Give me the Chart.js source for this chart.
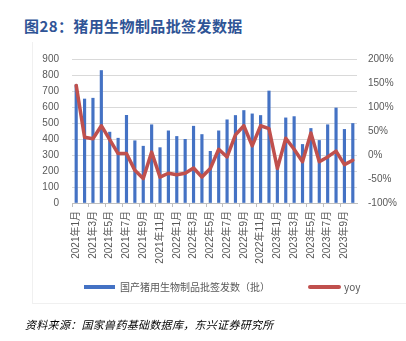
<!DOCTYPE html>
<html>
<head>
<meta charset="utf-8">
<script src="https://cdn.jsdelivr.net/npm/chart.js@4"></script>
<style>
  html, body { margin: 0; padding: 0; background: #fff; }
  body { width: 406px; height: 341px; position: relative; overflow: hidden; font-family: 'Liberation Sans', 'Noto Sans CJK SC', sans-serif; }
  #title { position: absolute; left: 24px; top: 15px; font-size: 15px; font-weight: bold; color: #2F5496; font-family: 'Noto Sans CJK SC', sans-serif; white-space: nowrap; letter-spacing: 0.4px; }
  #frame { position: absolute; left: 32px; top: 42px; width: 380px; height: 261px; border-left: 1px solid #f0f0f0; border-bottom: 1px solid #f0f0f0; }
  #chartBox { position: absolute; left: 0; top: 40px; width: 406px; height: 240px; }
  .leg { position: absolute; top: 279px; font-size: 10px; color: #595959; font-family: 'Noto Sans CJK SC', sans-serif; white-space: nowrap; line-height: 16px; }
  .sw { position: absolute; }
  #source { position: absolute; left: 25px; top: 316px; font-size: 11px; font-style: italic; letter-spacing: 0.3px; color: #000; font-family: 'Noto Sans CJK SC', sans-serif; white-space: nowrap; }
</style>
</head>
<body>
<div id="title">图28：猪用生物制品批签发数据</div>
<div id="frame"></div>
<div id="chartBox"><canvas id="c" width="406" height="240"></canvas></div>
<div class="sw" style="left:84px;top:285px;width:31px;height:4px;background:#4472C4"></div>
<div class="leg" style="left:120px">国产猪用生物制品批签发数（批）</div>
<div class="sw" style="left:308px;top:285px;width:33px;height:4px;border-radius:2px;background:#C0504D"></div>
<div class="leg" style="left:344px">yoy</div>
<div id="source">资料来源：国家兽药基础数据库，东兴证券研究所</div>
<script>
// months, 2021-01 .. 2023-10
const categories = [
  '2021年1月','2021年2月','2021年3月','2021年4月','2021年5月','2021年6月',
  '2021年7月','2021年8月','2021年9月','2021年10月','2021年11月','2021年12月',
  '2022年1月','2022年2月','2022年3月','2022年4月','2022年5月','2022年6月',
  '2022年7月','2022年8月','2022年9月','2022年10月','2022年11月','2022年12月',
  '2023年1月','2023年2月','2023年3月','2023年4月','2023年5月','2023年6月',
  '2023年7月','2023年8月','2023年9月','2023年10月'
];
// 批签发数（批）
const batchCounts = [738, 650, 655, 828, 443, 405, 548, 389, 355, 489, 346, 451,
  416, 398, 480, 428, 323, 451, 520, 547, 578, 557, 547, 700,
  215, 532, 540, 366, 466, 391, 489, 594, 460, 497];
// yoy, %
const yoyPct = [145, 37, 34, 61, 32, 3, 3, -32, -49, 6, -46, -38,
  -41, -38, -27, -46, -28, 12, -4, 42, 61, 19, 61, 55,
  -28, 35, 12, -14, 46, -14, -4, 8, -20, -11];

const tickFont = { family: "'Liberation Sans', 'Noto Sans CJK SC', sans-serif", size: 10 };
const grey = '#595959';

new Chart(document.getElementById('c').getContext('2d'), {
  data: {
    labels: categories,
    datasets: [
      { type: 'line', label: 'yoy', data: yoyPct, yAxisID: 'y1', order: 0,
        borderColor: '#C0504D', borderWidth: 3.5, pointRadius: 0, tension: 0,
        borderJoinStyle: 'round', borderCapStyle: 'round' },
      { type: 'bar', label: '国产猪用生物制品批签发数（批）', data: batchCounts, yAxisID: 'y', order: 1,
        backgroundColor: '#4472C4', barThickness: 2.5 }
    ]
  },
  options: {
    responsive: false,
    animation: false,
    devicePixelRatio: 1,
    layout: { padding: { top: 18, left: 0, right: 0, bottom: 0 } },
    plugins: { legend: { display: false }, tooltip: { enabled: false } },
    scales: {
      x: {
        offset: true,
        grid: { offset: true, drawOnChartArea: false, drawTicks: true, tickLength: 4,
          color: c => (c.index % 2 === 0 ? '#bfbfbf' : 'rgba(0,0,0,0)') },
        border: { color: '#bfbfbf' },
        ticks: { autoSkip: false, minRotation: 90, maxRotation: 90, padding: 4, color: grey, font: tickFont,
          callback: (v, i) => (i % 2 === 0 ? categories[i] : '') },
        afterFit: s => { s.height = 77; }
      },
      y: {
        position: 'left', min: 0, max: 900,
        ticks: { stepSize: 100, padding: 13, color: grey, font: tickFont },
        grid: { color: '#d9d9d9', drawTicks: false },
        border: { display: false },
        afterFit: s => { s.width = 72; }
      },
      y1: {
        position: 'right', min: -100, max: 200,
        ticks: { stepSize: 50, padding: 11, color: grey, font: tickFont, callback: v => v + '%' },
        grid: { drawOnChartArea: false, drawTicks: false },
        border: { display: false },
        afterFit: s => { s.width = 49; }
      }
    }
  }
});
</script>
</body>
</html>
